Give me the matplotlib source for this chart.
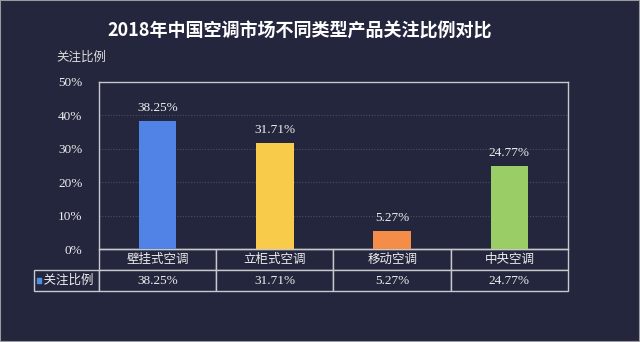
import matplotlib
matplotlib.use("Agg")
import matplotlib.pyplot as plt
from matplotlib.table import Table
from matplotlib.patches import Rectangle
from matplotlib.ticker import FuncFormatter

# data
categories = ["壁挂式空调", "立柜式空调", "移动空调", "中央空调"]
values = [38.25, 31.71, 5.27, 24.77]
bar_colors = ["#5183e6", "#f9cb4a", "#f48d48", "#9acd66"]
series_name = "关注比例"
title = "2018年中国空调市场不同类型产品关注比例对比"

bg = "#23263c"
fg = "#eeeeee"
edge = "#c9c9cc"
cjk = ["Noto Sans CJK SC", "DejaVu Sans"]
serif = ["Liberation Serif", "DejaVu Serif"]

fig = plt.figure(figsize=(6.4, 3.42), dpi=100, facecolor=bg)
ax = fig.add_axes([99 / 640, 1 - 249 / 342, 469 / 640, 167 / 342])
ax.set_facecolor(bg)

x = range(len(categories))
ax.bar(x, values, width=0.32, color=bar_colors, zorder=3)
for xi, v in zip(x, values):
    ax.text(xi, v + 2.2, f"{v:.2f}%", ha="center", va="bottom",
            color=fg, fontsize=9.5, family=serif)

ax.set_xlim(-0.5, len(categories) - 0.5)
ax.set_ylim(0, 50)
ax.set_yticks(range(0, 51, 10))
ax.yaxis.set_major_formatter(FuncFormatter(lambda v, p: f"{v:.0f}%"))
ax.set_xticks([])
ax.tick_params(axis="y", length=0, pad=12, colors=fg, labelsize=9.5)
for lab in ax.get_yticklabels():
    lab.set_family(serif)
ax.grid(axis="y", color="#4b4e66", linestyle=(0, (1, 1.5)), linewidth=0.8, zorder=0)
for s in ax.spines.values():
    s.set_color(edge)
    s.set_linewidth(1.0)

# data table under the plot: column 0 is the legend column
lw = 65.5 / 469
tab = Table(ax, bbox=[-lw, -42 / 167, 1 + lw, 42 / 167])
cw = 0.25
h = 0.12


def style(cell, fam, size):
    t = cell.get_text()
    t.set_color(fg)
    t.set_family(fam)
    t.set_fontsize(size)


for j, c in enumerate(categories):
    style(tab.add_cell(0, j + 1, width=cw, height=h, text=c, loc="center",
                       facecolor=bg, edgecolor=edge), cjk, 9)
for j, v in enumerate(values):
    style(tab.add_cell(1, j + 1, width=cw, height=h, text=f"{v:.2f}%", loc="center",
                       facecolor=bg, edgecolor=edge), serif, 9.5)
style(tab.add_cell(1, 0, width=lw, height=h, text="  " + series_name, loc="center",
                   facecolor=bg, edgecolor=edge), cjk, 9)
tab.auto_set_font_size(False)
ax.add_table(tab)

# legend key square
fig.patches.append(Rectangle((37 / 640, 1 - 283 / 342), 4 / 640, 5 / 342,
                             transform=fig.transFigure, color="#4d8fe0"))

fig.text(300 / 640, 1 - 31 / 342, title, ha="center", va="center",
         color="white", fontsize=13, fontweight="bold", family=cjk)
fig.text(56 / 640, 1 - 57 / 342, series_name, ha="left", va="center",
         color="#dddddd", fontsize=9, family=cjk)

fig.patches.append(Rectangle((0, 0), 1, 1, transform=fig.transFigure,
                             fill=False, edgecolor="#9a9a9a", linewidth=1.5))

fig.savefig("out.png", dpi=100, facecolor=bg)
